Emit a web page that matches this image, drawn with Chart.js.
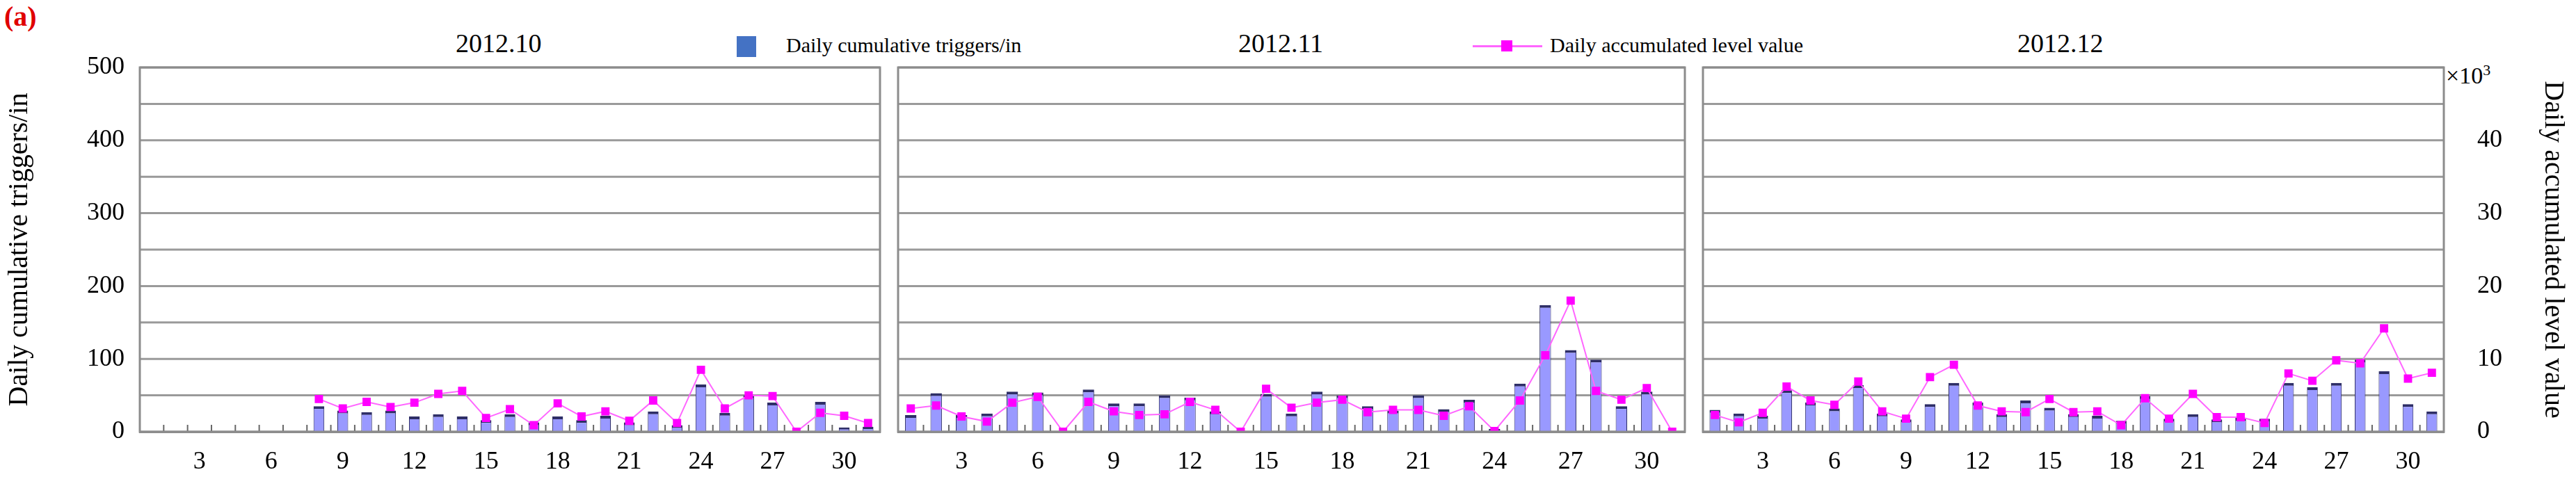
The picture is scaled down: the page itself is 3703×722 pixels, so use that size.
<!DOCTYPE html>
<html><head><meta charset="utf-8">
<script src="https://cdn.jsdelivr.net/npm/chart.js@4"></script>
<style>
body{margin:0;width:3703px;height:722px;background:#fff;position:relative;overflow:hidden;font-family:"Liberation Serif","DejaVu Serif",serif;}
.p{position:absolute;top:0;height:722px;}
.t{position:absolute;font-family:"Liberation Serif",serif;color:#000;white-space:nowrap;}
</style></head><body>
<div class="t" style="left:6px;top:0px;font-size:40px;font-weight:bold;color:#e00000;">(a)</div>
<div class="t" style="left:655px;top:40px;font-size:38px;">2012.10</div>
<div class="t" style="left:1780px;top:40px;font-size:38px;">2012.11</div>
<div class="t" style="left:2900px;top:40px;font-size:38px;">2012.12</div>
<div style="position:absolute;left:1059px;top:52px;width:28px;height:30px;background:#4472c4;"></div>
<div class="t" style="left:1130px;top:48px;font-size:30px;">Daily cumulative triggers/in</div>
<div style="position:absolute;left:2117px;top:65px;width:100px;height:3px;background:#ff66ff;"></div>
<div style="position:absolute;left:2158px;top:58px;width:16px;height:16px;background:#ff00ff;"></div>
<div class="t" style="left:2228px;top:48px;font-size:30px;">Daily accumulated level value</div>
<div class="t" style="left:3516px;top:88px;font-size:34px;">×10<sup style="font-size:22px">3</sup></div>
<div class="p" style="left:0;width:1274px;"><canvas id="c1"></canvas></div>
<div class="p" style="left:1282px;width:1149px;"><canvas id="c2"></canvas></div>
<div class="p" style="left:2439px;width:1264px;"><canvas id="c3"></canvas></div>
<script>
const octDays = Array.from({length:31},(_,i)=>String(i+1));
const novDays = Array.from({length:31},(_,i)=>String(i+1));
const decDays = Array.from({length:31},(_,i)=>String(i+1));
const octTriggers = [null,null,null,null,null,null,null,35,29,27,29,21,24,21,16,24,13,21,16,22,13,28,9,65,26,50,40,0,41,6,7];
const octLevel = [null,null,null,null,null,null,null,4.5,3.2,4.1,3.4,4.0,5.2,5.6,1.9,3.1,0.9,3.9,2.1,2.8,1.5,4.3,1.2,8.5,3.2,5.0,4.9,0,2.6,2.2,1.2];
const novTriggers = [23,53,23,25,55,54,0,58,39,39,50,47,28,0,52,25,55,50,35,29,50,31,44,4,66,174,112,99,35,55,0];
const novLevel = [3.2,3.6,2.1,1.4,4.0,4.8,0,4.1,2.8,2.3,2.4,4.1,3.0,0,5.9,3.3,4.0,4.4,2.7,3.0,3.0,2.2,3.5,0.1,4.3,10.5,18.0,5.6,4.4,6.0,0];
const decTriggers = [30,25,22,57,40,32,64,25,17,38,67,40,24,43,33,24,22,15,49,18,24,17,19,18,67,61,67,99,83,38,28];
const decLevel = [2.3,1.3,2.6,6.2,4.3,3.7,6.9,2.8,1.8,7.5,9.2,3.6,2.8,2.7,4.5,2.7,2.8,0.9,4.6,1.8,5.2,2.0,2.0,1.2,8.0,7.0,9.8,9.4,14.2,7.3,8.1];
const leftTicks = [0,100,200,300,400,500];
const rightTicks = [0,10,20,30,40];

const F = "Liberation Serif";
const frame = {id:'frame',
  beforeDatasetsDraw(c){const a=c.chartArea,x=c.ctx,y=c.scales.y;x.save();x.strokeStyle='#9a9a9a';x.lineWidth=3;for(let v=0;v<=500;v+=50){const py=y.getPixelForValue(v);x.beginPath();x.moveTo(a.left,py);x.lineTo(a.right,py);x.stroke();}
    x.strokeStyle='#666';x.lineWidth=2;const xs=c.scales.x;for(let i=0;i<=c.data.labels.length;i++){const px=xs.getPixelForValue(i)-(xs.getPixelForValue(1)-xs.getPixelForValue(0))/2;x.beginPath();x.moveTo(px,a.bottom);x.lineTo(px,a.bottom-10);x.stroke();}
    x.restore();},
  afterDraw(c){const a=c.chartArea,x=c.ctx;x.save();x.strokeStyle='#8c8c8c';x.lineWidth=3;x.strokeRect(a.left,a.top,a.right-a.left,a.bottom-a.top);x.restore();}};

function make(id,labels,bars,line,showL,showR,rw){
  new Chart(document.getElementById(id),{
    data:{labels,datasets:[
      {type:'line',data:line,yAxisID:'y1',borderColor:'#ff66ff',borderWidth:2,pointStyle:'rect',pointRadius:7,pointBackgroundColor:'#ff00ff',pointBorderColor:'#ff00ff',spanGaps:false,order:0},
      {type:'bar',data:bars,yAxisID:'y',backgroundColor:'#9999ff',borderColor:'#2e2e66',borderWidth:{top:4,left:1,right:1,bottom:0},barPercentage:0.45,categoryPercentage:1,order:1}
    ]},
    plugins:[frame],
    options:{responsive:true,maintainAspectRatio:false,animation:false,
      layout:{padding:{top:97,right:0,left:0,bottom:0}},
      plugins:{legend:{display:false},tooltip:{enabled:false}},
      scales:{
        x:{offset:true,grid:{display:false},border:{color:'#8c8c8c',width:3},
          ticks:{autoSkip:false,maxRotation:0,color:'#000',font:{family:F,size:36},padding:14,callback:function(v){const d=+this.getLabelForValue(v);return d%3===0?String(d):'';}},
          afterFit(s){s.height=101;}},
        y:{display:showL,min:0,max:500,position:'left',
          grid:{display:false},border:{display:false},
          ticks:{stepSize:50,color:'#000',font:{family:F,size:36},padding:14,callback:v=>leftTicks.includes(v)?String(v):''},
          title:{display:true,text:'Daily cumulative triggers/in',color:'#000',font:{family:F,size:40},padding:{bottom:4}},
          afterFit(s){s.width=showL?201:0;}},
        y1:{display:showR,min:0,max:50,position:'right',grid:{display:false},border:{display:false},
          ticks:{stepSize:10,color:'#000',font:{family:F,size:36},padding:40,callback:v=>rightTicks.includes(v)?String(v):''},
          title:{display:true,text:'Daily accumulated level value',color:'#000',font:{family:F,size:40},padding:{top:10}},
          afterFit(s){s.width=showR?rw:0;}}
      }}
  });
}
make('c1',octDays,octTriggers,octLevel,true,false,0);
make('c2',novDays,novTriggers,novLevel,false,false,0);
make('c3',decDays,decTriggers,decLevel,false,true,190);
</script>
</body></html>
